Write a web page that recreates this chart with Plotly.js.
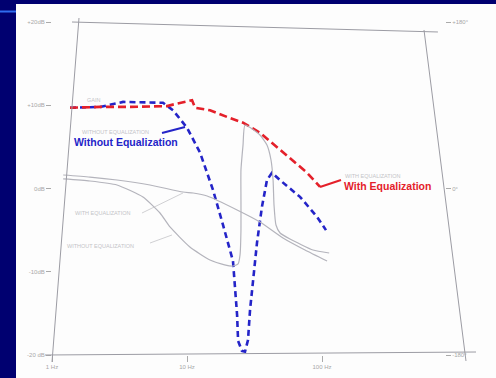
<!DOCTYPE html>
<html>
<head>
<meta charset="utf-8">
<script src="https://cdn.plot.ly/plotly-3.0.1.min.js"></script>
<style>html,body{margin:0;padding:0;background:#000070;}#chart{width:496px;height:378px;}</style>
</head>
<body>
<div id="chart"></div>
<script>
// ---- data ----
// Gain with equalization (dB) vs frequency (Hz)
const freqWithEq = [1.36, 2.27, 3.78, 7.11, 8.43, 10.9, 11.5, 14.8, 19.8, 26.0, 34.7, 46.4, 61.0, 77.4, 96.7];
const gainWithEq = [9.7, 9.8, 9.8, 9.9, 10.2, 10.6, 9.7, 9.4, 8.6, 7.9, 6.7, 5.0, 3.4, 1.9, 0.2];

// Gain without equalization (dB)
const freqWithoutEq = [1.36, 2.27, 3.36, 4.89, 6.64, 7.88, 10.0, 12.5, 15.6, 18.5, 20.8, 21.9, 22.7, 23.5, 23.9, 25.5, 26.9, 28.3, 29.3, 30.8, 33.0, 35.9, 39.1, 42.6, 48.9, 68.7, 91.8, 107];
const gainWithoutEq = [9.7, 9.8, 10.4, 10.3, 10.3, 9.4, 7.3, 4.3, -0.2, -4.4, -7.2, -8.7, -12.0, -15.2, -18.3, -19.5, -19.6, -18.2, -14.6, -11.0, -6.5, -2.2, 1.0, 1.9, 1.0, -1.0, -3.4, -5.0];

// Original printed phase curves (degrees)
const freqPhaseWithEq = [1.21, 1.91, 3.03, 5.32, 9.34, 11.1, 14.1, 23.5, 34.7, 51.4, 74.8, 109];
const phaseWithEq = [14.6, 12.4, 9.2, 3.8, -3.8, -4.9, -8.1, -23.2, -36.2, -53.5, -66.5, -78.4];

const freqPhaseWithoutEq = [1.21, 1.91, 3.03, 4.72, 6.31, 7.48, 10.5, 14.8, 19.0, 21.9, 23.9, 24.7, 25.1, 25.1, 25.1, 26.0, 26.9, 34.7, 39.1, 41.9, 43.4, 44.1, 45.6, 48.9, 57.9, 85.8, 113];
const phaseWithoutEq = [10.3, 8.1, 3.8, -9.2, -26.5, -41.6, -63.2, -77.3, -82.5, -83.8, -81.6, -71.9, -44.9, -12.4, 20.0, 47.0, 68.6, 57.8, 47.0, 30.8, 9.2, -17.8, -39.5, -48.1, -54.6, -66.5, -69.7];

// Tick labels
const freqTicks = [1, 10, 100];
const freqTickText = ['1 Hz', '10 Hz', '100 Hz'];
const dbTicks = [-20, -10, 0, 10, 20];
const dbTickText = ['-20 dB', '-10dB', '0dB', '+10dB', '+20dB'];
const degTicks = [-180, 0, 180];
const degTickText = ['-180°', '0°', '+180°'];

// ---- styling ----
const RED = '#e4202a';
const BLUE = '#2424c8';
const GRAY = '#b4b4bc';
const FAINT = '#c4c4c8';
const FONT = '"Liberation Sans", Arial, sans-serif';

const traces = [
  {x: freqPhaseWithEq, y: phaseWithEq, yaxis: 'y2', mode: 'lines', line: {color: GRAY, width: 1.2, shape: 'spline', smoothing: 0.6}, name: 'phase with eq'},
  {x: freqPhaseWithoutEq, y: phaseWithoutEq, yaxis: 'y2', mode: 'lines', line: {color: GRAY, width: 1.2, shape: 'spline', smoothing: 0.5}, name: 'phase without eq'},
  {x: freqWithoutEq, y: gainWithoutEq, mode: 'lines', line: {color: BLUE, width: 2.6, dash: '6px,4px'}, name: 'Without Equalization'},
  {x: freqWithEq, y: gainWithEq, mode: 'lines', line: {color: RED, width: 2.6, dash: '8px,4px'}, name: 'With Equalization'}
];

const tickFont = {family: FONT, size: 6, color: '#a8a8a8'};

const layout = {
  width: 496, height: 378,
  margin: {l: 52, r: 51, t: 22, b: 23},
  paper_bgcolor: '#000070',
  plot_bgcolor: 'rgba(0,0,0,0)',
  showlegend: false,
  xaxis: {type: 'log', range: [0, 2.911], tickvals: freqTicks, ticktext: freqTickText,
          showgrid: false, zeroline: false, showline: false, ticks: 'outside', ticklen: 6,
          tickcolor: '#aaaaaa', tickfont: tickFont},
  yaxis: {range: [-20, 20], tickvals: dbTicks, ticktext: dbTickText, showgrid: false,
          zeroline: false, showline: false, ticks: 'outside', ticklen: 5, tickcolor: '#aaaaaa',
          tickfont: tickFont},
  yaxis2: {range: [-180, 180], overlaying: 'y', side: 'right', tickvals: degTicks,
           ticktext: degTickText, showgrid: false, zeroline: false, showline: false,
           ticks: 'outside', ticklen: 5, tickcolor: '#aaaaaa', tickfont: tickFont},
  shapes: [
    // white photo sheet
    {type: 'rect', xref: 'paper', yref: 'paper', x0: -0.0916, x1: 1.14, y0: -0.08, y1: 1.054,
     fillcolor: '#fdfdfd', line: {width: 0}, layer: 'below'},
    // slide accent line
    {type: 'line', xref: 'paper', yref: 'paper', x0: -0.14, x1: -0.0916, y0: 1.0315, y1: 1.0315,
     line: {color: '#2f6cf0', width: 2}, layer: 'below'},
    // tilted chart frame of the photographed page
    {type: 'line', xref: 'paper', yref: 'paper', x0: 0.0509, y0: 1.0, x1: 0.982, y1: 0.970, line: {color: '#9c9ca4', width: 1}},
    {type: 'line', xref: 'paper', yref: 'paper', x0: 0.9466, y0: 0.976, x1: 1.0534, y1: -0.018, line: {color: '#9c9ca4', width: 1}},
    {type: 'line', xref: 'paper', yref: 'paper', x0: -0.0178, y0: 0, x1: 1.0789, y1: 0.009, line: {color: '#9c9ca4', width: 1}},
    {type: 'line', xref: 'paper', yref: 'paper', x0: 0.0687, y0: 1.012, x1: 0, y1: -0.021, line: {color: '#9c9ca4', width: 1}},
    // label pointers
    {type: 'line', xref: 'paper', yref: 'paper', x0: 0.2799, y0: 0.6667, x1: 0.3384, y1: 0.6847, line: {color: BLUE, width: 2}},
    {type: 'line', xref: 'paper', yref: 'paper', x0: 0.6819, y0: 0.5045, x1: 0.7354, y1: 0.5255, line: {color: RED, width: 2}},
    {type: 'line', xref: 'paper', yref: 'paper', x0: 0.229, y0: 0.4264, x1: 0.3333, y1: 0.4865, line: {color: FAINT, width: 0.8}},
    {type: 'line', xref: 'paper', yref: 'paper', x0: 0.2494, y0: 0.3363, x1: 0.3053, y1: 0.3604, line: {color: FAINT, width: 0.8}}
  ],
  annotations: [
    {xref: 'paper', yref: 'paper', x: 0.0509, y: 0.6396, xanchor: 'left', yanchor: 'middle', showarrow: false,
     text: '<b>Without Equalization</b>', font: {family: FONT, size: 10.5, color: BLUE}},
    {xref: 'paper', yref: 'paper', x: 0.7379, y: 0.5075, xanchor: 'left', yanchor: 'middle', showarrow: false,
     text: '<b>With Equalization</b>', font: {family: FONT, size: 10.5, color: RED}},
    {xref: 'paper', yref: 'paper', x: 0.084, y: 0.7658, xanchor: 'left', yanchor: 'middle', showarrow: false,
     text: 'GAIN', font: {family: FONT, size: 5.5, color: FAINT}},
    {xref: 'paper', yref: 'paper', x: 0.0712, y: 0.6697, xanchor: 'left', yanchor: 'middle', showarrow: false,
     text: 'WITHOUT EQUALIZATION', font: {family: FONT, size: 5.5, color: FAINT}},
    {xref: 'paper', yref: 'paper', x: 0.7405, y: 0.5375, xanchor: 'left', yanchor: 'middle', showarrow: false,
     text: 'WITH EQUALIZATION', font: {family: FONT, size: 5.5, color: FAINT}},
    {xref: 'paper', yref: 'paper', x: 0.0534, y: 0.4264, xanchor: 'left', yanchor: 'middle', showarrow: false,
     text: 'WITH EQUALIZATION', font: {family: FONT, size: 5.5, color: FAINT}},
    {xref: 'paper', yref: 'paper', x: 0.0331, y: 0.3273, xanchor: 'left', yanchor: 'middle', showarrow: false,
     text: 'WITHOUT EQUALIZATION', font: {family: FONT, size: 5.5, color: FAINT}}
  ]
};

Plotly.newPlot('chart', traces, layout, {displayModeBar: false, staticPlot: true});
</script>
</body>
</html>
